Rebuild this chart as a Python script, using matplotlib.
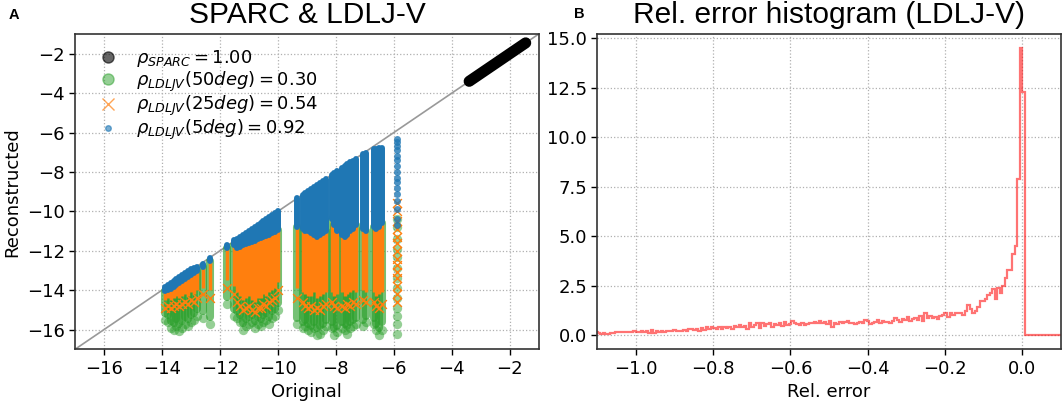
import numpy as np
import matplotlib.pyplot as plt
from matplotlib.lines import Line2D

# ---- panel A data -------------------------------------------------------
# SPARC: reconstruction sits on the identity line
sparc_orig = [-3.4, -3.0, -2.6, -2.2, -1.8, -1.45]
sparc_rec = [-3.4, -3.0, -2.6, -2.2, -1.8, -1.45]

# LDLJ-V: dense columns of points (one original value, many reconstructions)
# col_top = highest reconstructed value; *_lo = bottom of the dense part;
# *_tail = lowest stray points per noise level
col_x = [-13.9, -13.8, -13.7, -13.6, -13.5, -13.4, -13.3, -13.2, -13.1, -13.0,
         -12.9, -12.8, -12.6, -12.35,
         -11.75, -11.5, -11.4, -11.3, -11.2, -11.1, -11.0, -10.9, -10.8, -10.7,
         -10.6, -10.5, -10.4, -10.3, -10.2, -10.1, -10.0,
         -9.35, -9.15, -9.05, -8.95, -8.85, -8.75, -8.65, -8.55, -8.45, -8.35,
         -8.15, -8.05, -7.95, -7.8, -7.7, -7.6, -7.5, -7.4, -7.3,
         -7.05, -6.95, -6.7, -6.6, -6.5, -6.4]
col_top = [-13.85, -13.75, -13.65, -13.55, -13.45, -13.35, -13.25, -13.15, -13.05, -12.95,
           -12.85, -12.8, -12.65, -12.35,
           -11.7, -11.45, -11.38, -11.28, -11.18, -11.08, -10.98, -10.88, -10.78, -10.68,
           -10.58, -10.48, -10.38, -10.28, -10.18, -10.08, -10.0,
           -9.3, -9.18, -9.08, -8.98, -8.88, -8.78, -8.68, -8.58, -8.48, -8.38,
           -8.15, -8.05, -7.95, -7.8, -7.72, -7.62, -7.52, -7.42, -7.32,
           -7.08, -7.05, -6.85, -6.82, -6.8, -6.8]
blue_lo = [-14.05, -14.0, -13.95, -13.85, -13.75, -13.65, -13.55, -13.45, -13.35, -13.25,
           -13.15, -13.05, -12.8, -12.5,
           -11.85, -11.7, -11.85, -11.8, -11.73, -11.67, -11.6, -11.55, -11.48, -11.42,
           -11.36, -11.3, -11.24, -11.18, -11.1, -11.03, -10.95,
           -10.8, -10.9, -11.0, -11.0, -11.1, -11.2, -11.3, -11.2, -11.1, -11.0,
           -10.4, -10.7, -11.0, -11.2, -11.3, -11.2, -11.0, -10.9, -10.7,
           -10.9, -11.0, -10.8, -10.9, -10.8, -10.6]
orange_lo = [-14.5, -14.4, -14.5, -14.4, -14.3, -14.4, -14.3, -14.2, -14.3, -14.1,
             -14.2, -14.0, -13.9, -14.0,
             -13.5, -13.8, -14.1, -14.3, -14.5, -14.4, -14.3, -14.5, -14.6, -14.4,
             -14.4, -14.2, -14.3, -14.1, -14.0, -13.9, -13.6,
             -13.9, -14.1, -14.2, -14.3, -14.3, -14.1, -14.4, -14.3, -14.2, -14.1,
             -14.1, -14.3, -14.2, -14.1, -14.3, -14.2, -14.1, -14.0, -14.1,
             -14.0, -14.1, -14.1, -14.3, -14.2, -14.1]
orange_tail = [-14.9, -14.8, -14.9, -14.8, -14.7, -14.8, -14.7, -14.6, -14.7, -14.5,
               -14.6, -14.4, -14.2, -14.4,
               -13.9, -14.2, -14.6, -14.8, -15.0, -14.9, -14.8, -15.0, -15.1, -14.9,
               -14.9, -14.7, -14.8, -14.6, -14.5, -14.4, -14.0,
               -14.4, -14.6, -14.8, -14.9, -14.8, -15.0, -14.9, -15.0, -14.8, -14.7,
               -14.6, -14.8, -14.9, -14.8, -14.9, -14.7, -14.8, -14.6, -14.7,
               -14.5, -14.6, -14.6, -14.8, -14.9, -14.7]
green_lo = [-15.15, -15.25, -15.55, -15.65, -15.45, -15.7, -15.55, -15.35, -15.45, -15.25,
            -15.15, -14.95, -15.05, -15.35,
            -14.35, -14.95, -15.05, -15.25, -15.65, -15.45, -15.35, -15.25, -15.55, -15.35,
            -15.45, -15.25, -15.15, -15.35, -15.05, -14.95, -14.65,
            -15.4, -15.6, -15.5, -15.7, -15.8, -15.6, -15.9, -15.8, -15.7, -15.5,
            -15.6, -15.9, -15.8, -15.6, -15.7, -15.8, -15.6, -15.5, -15.4,
            -15.5, -15.3, -15.4, -15.7, -15.9, -15.6]
green_tail = [-15.5, -15.6, -15.9, -16.0, -15.8, -16.05, -15.9, -15.7, -15.8, -15.6,
              -15.5, -15.3, -15.4, -15.7,
              -14.7, -15.3, -15.4, -15.6, -16.0, -15.8, -15.7, -15.6, -15.9, -15.7,
              -15.8, -15.6, -15.5, -15.7, -15.4, -15.3, -15.0,
              -15.7, -15.9, -15.8, -16.0, -16.1, -15.9, -16.3, -16.2, -16.0, -15.8,
              -15.9, -16.3, -16.1, -15.9, -16.0, -16.2, -15.9, -15.8, -15.7,
              -15.8, -15.6, -15.7, -16.0, -16.3, -16.0]

# sparse column at the largest LDLJ-V value
iso_x = -5.9
iso_5deg = [-6.35, -6.5, -6.7, -6.9, -7.2, -7.4, -7.7, -8.0, -8.3, -8.5, -8.8,
            -9.1, -9.5, -9.9, -10.4, -10.7]
iso_25deg = [-9.6, -10.0, -10.5, -10.9, -11.3, -11.6, -12.0, -12.4, -12.7,
             -13.1, -13.4, -13.8, -14.2, -14.6]
iso_50deg = [-10.4, -10.8, -11.4, -11.9, -12.3, -12.9, -13.4, -13.9, -14.4,
             -14.9, -15.3, -15.7, -16.2]

labels = [r'$\rho_{SPARC} = 1.00$',
          r'$\rho_{LDLJV}(50deg) = 0.30$',
          r'$\rho_{LDLJV}(25deg) = 0.54$',
          r'$\rho_{LDLJV}(5deg) = 0.92$']

# ---- panel B data: relative error histogram (density) -------------------
hist_start = -1.105
hist_width = 0.0065
rel_hist = [
    0.15, 0.10, 0.05, 0.08, 0.05, 0.07, 0.10, 0.08, 0.15, 0.15,
    0.14, 0.15, 0.15, 0.16, 0.15, 0.18, 0.15, 0.16, 0.20, 0.15,
    0.22, 0.10, 0.25, 0.12, 0.18, 0.15, 0.20, 0.15, 0.22, 0.18,
    0.20, 0.25, 0.18, 0.20, 0.22, 0.26, 0.20, 0.28, 0.30, 0.25,
    0.32, 0.22, 0.35, 0.25, 0.38, 0.30, 0.42, 0.35, 0.28, 0.38,
    0.32, 0.40, 0.35, 0.42, 0.30, 0.45, 0.38, 0.50, 0.40, 0.45,
    0.30, 0.58, 0.40, 0.48, 0.62, 0.35, 0.62, 0.45, 0.55, 0.60,
    0.40, 0.55, 0.52, 0.58, 0.45, 0.65, 0.50, 0.55, 0.72, 0.62,
    0.55, 0.48, 0.60, 0.50, 0.55, 0.60, 0.58, 0.68, 0.60, 0.72,
    0.62, 0.65, 0.55, 0.70, 0.42, 0.60, 0.55, 0.65, 0.60, 0.63,
    0.70, 0.58, 0.62, 0.55, 0.60, 0.68, 0.62, 0.78, 0.72, 0.55,
    0.62, 0.65, 0.75, 0.60, 0.72, 0.65, 0.68, 0.62, 0.70, 0.85,
    0.75, 0.65, 0.82, 0.78, 0.90, 0.72, 0.80, 0.85, 0.75, 0.95,
    0.70, 1.10, 0.85, 0.95, 0.88, 0.92, 0.80, 0.95,
    1.0, 1.1, 0.9, 1.1, 1.0, 1.1, 1.1, 1.1, 1.0, 1.2,
    1.5, 1.3, 1.1, 1.2, 1.4, 1.7, 1.7, 1.8, 2.0, 2.1,
    2.3, 1.8, 2.4, 2.1, 2.5, 2.9, 3.3, 3.3, 4.1, 4.5,
    7.9, 14.5,
    12.3,
    0, 0, 0, 0, 0, 0, 0, 0, 0, 0, 0, 0, 0, 0, 0]

C_BLUE = '#1f77b4'
C_ORANGE = '#ff7f0e'
C_GREEN = '#2ca02c'

fig = plt.figure(figsize=(10.63, 4.03), dpi=100)
ax1 = fig.add_axes([0.0706, 0.1333, 0.4362, 0.7823])
ax2 = fig.add_axes([0.5619, 0.1333, 0.4362, 0.7823])

# ---- panel A ------------------------------------------------------------
ax1.plot([-17, -1], [-17, -1], color='#999999', lw=1.2, zorder=1)
ax1.plot(sparc_orig, sparc_rec, color='k', lw=8, solid_capstyle='round', zorder=3)

# 50 deg (green circles) - only the part below the blue cloud shows
g = ax1.vlines(col_x, green_lo, blue_lo, color=C_GREEN, alpha=0.65, lw=5.8, zorder=2)
g.set_capstyle('round')
ax1.scatter(col_x, green_tail, s=45, color=C_GREEN, alpha=0.5, lw=0, zorder=2)
ax1.scatter([iso_x] * len(iso_50deg), iso_50deg, s=45, color=C_GREEN, alpha=0.5,
            lw=0, zorder=2)
# 25 deg (orange crosses)
o = ax1.vlines(col_x, orange_lo, np.array(col_top) - 0.05, color=C_ORANGE, lw=2.5,
               zorder=2.1)
ax1.scatter(col_x, orange_tail, marker='x', s=40, color=C_ORANGE, lw=1, zorder=2.1)
ax1.scatter([iso_x] * len(iso_25deg), iso_25deg, marker='x', s=40,
            color=C_ORANGE, lw=1, zorder=2.1)
# 5 deg (small blue dots)
b = ax1.vlines(col_x, blue_lo, col_top, color=C_BLUE, lw=4.3, zorder=2.2)
b.set_capstyle('round')
ax1.scatter([iso_x] * len(iso_5deg), iso_5deg, s=25, color=C_BLUE, alpha=0.8,
            lw=0, zorder=2.2)

handles = [Line2D([], [], ls='', marker='o', color='k', alpha=0.6, markersize=8),
           Line2D([], [], ls='', marker='o', color=C_GREEN, alpha=0.5, markersize=8),
           Line2D([], [], ls='', marker='x', color=C_ORANGE, alpha=0.7, markersize=8),
           Line2D([], [], ls='', marker='o', color=C_BLUE, alpha=0.6, markersize=4)]
ax1.legend(handles, labels, loc='upper left', frameon=False, fontsize=13,
           handletextpad=0.6, labelspacing=0.0, borderaxespad=0.4)

ax1.set_xlim(-17, -1)
ax1.set_ylim(-17, -1)
ax1.set_xticks([-16, -14, -12, -10, -8, -6, -4, -2])
ax1.set_yticks([-16, -14, -12, -10, -8, -6, -4, -2])
ax1.set_xlabel('Original', fontsize=13)
ax1.set_ylabel('Reconstructed', fontsize=13)
ax1.set_title('SPARC & LDLJ-V', fontsize=21.5, family='Liberation Sans', pad=8)

# ---- panel B ------------------------------------------------------------
edges = hist_start + hist_width * np.arange(len(rel_hist) + 1)
ax2.stairs(rel_hist, edges, color='red', alpha=0.55, lw=1.6)
ax2.set_xlim(-1.1, 0.1)
ax2.set_ylim(-0.725, 15.225)
ax2.set_xticks([-1.0, -0.8, -0.6, -0.4, -0.2, 0.0])
ax2.set_yticks([0, 2.5, 5, 7.5, 10, 12.5, 15])
ax2.yaxis.set_major_formatter(plt.FormatStrFormatter('%.1f'))
ax2.set_xlabel('Rel. error', fontsize=13)
ax2.set_title('Rel. error histogram (LDLJ-V)', fontsize=21.5,
              family='Liberation Sans', pad=8)

for ax in (ax1, ax2):
    ax.grid(True, ls=':', color='#b0b0b0', lw=0.9)
    ax.set_axisbelow(True)
    ax.tick_params(labelsize=13, length=4, width=1)
    for sp in ax.spines.values():
        sp.set_color('#333333')
        sp.set_linewidth(1.2)

fig.text(0.008, 0.98, 'A', fontsize=10.5, weight='bold', family='Liberation Sans', va='top')
fig.text(0.540, 0.983, 'B', fontsize=10.5, weight='bold', family='Liberation Sans', va='top')

fig.savefig('out.png', dpi=100)
